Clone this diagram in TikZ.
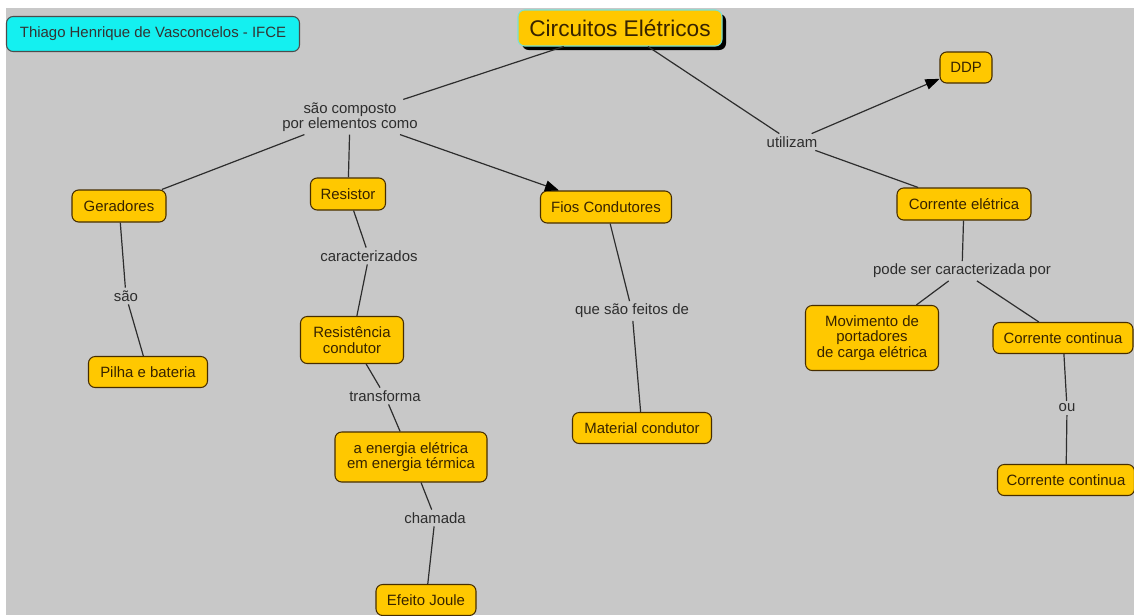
\documentclass[tikz,border=0pt]{standalone}
\usepackage{fontspec}
\setmainfont{Liberation Sans}
\usetikzlibrary{arrows.meta,shadows}
\definecolor{conceito}{RGB}{255,200,0}
\definecolor{borda}{RGB}{70,45,0}
\definecolor{fundo}{RGB}{200,200,200}
\definecolor{texto}{RGB}{55,35,0}
\definecolor{ligacao}{RGB}{45,45,45}
\definecolor{autor}{RGB}{20,240,240}

\begin{document}
\begin{tikzpicture}[x=0.75pt,y=-0.75pt,
  tam/.style 2 args={minimum width=#1*0.75pt, minimum height=#2*0.75pt},
  conc/.style={draw=borda, fill=conceito, text=texto, rounded corners=5pt,
    line width=0.8pt, align=center, inner sep=0pt,
    font=\fontsize{11.2}{11.6}\selectfont},
  frase/.style={text=ligacao, align=center, inner sep=2pt,
    font=\fontsize{11.2}{11.6}\selectfont},
  liga/.style={draw=ligacao, line width=0.9pt},
  seta/.style={liga, -{Triangle[length=10.5pt,width=8pt,color=black]}}]
  \useasboundingbox (0,0) rectangle (1134,615);
  \fill [white] (0,0) rectangle (1134,615);
  \fill [fundo] (6,8) rectangle (1134,615);

  \node [conc, tam={293}{35}, fill=autor, draw=black!70, text=black!80] at (153,34) (autor) {Thiago Henrique de Vasconcelos - IFCE};
  \node [conc, tam={204}{36}, draw={rgb,255:red,120;green,225;blue,210},
    drop shadow={fill=black, opacity=1, shadow xshift=3pt, shadow yshift=-3pt},
    font=\fontsize{17}{20}\selectfont] at (620,28) (circuitos) {Circuitos Elétricos};

  \node [conc, tam={52}{31}] at (966,67.5) (ddp) {DDP};
  \node [conc, tam={134}{32}] at (964,204) (corrente) {Corrente elétrica};
  \node [conc, tam={94}{32}] at (119,206) (geradores) {Geradores};
  \node [conc, tam={119}{31}] at (148,372) (pilha) {Pilha e bateria};
  \node [conc, tam={75}{32}] at (348,194) (resistor) {Resistor};
  \node [conc, tam={131}{32}] at (606,207) (fios) {Fios Condutores};
  \node [conc, tam={139}{31}] at (642,428) (material) {Material condutor};
  \node [conc, tam={103}{47}] at (352,340) (resistencia) {Resistência\\condutor};
  \node [conc, tam={152}{50}] at (411,457) (energia) {a energia elétrica\\em energia térmica};
  \node [conc, tam={100}{31}] at (426,600) (joule) {Efeito Joule};
  \node [conc, tam={133}{65}] at (872,338) (movimento) {Movimento de\\portadores\\de carga elétrica};
  \node [conc, tam={140}{31}] at (1063,338) (continua) {Corrente continua};
  \node [conc, tam={137}{31}] at (1066,480) (continuab) {Corrente continua};

  \node [frase] at (350,117) (composto) {são composto\\por elementos como};
  \node [frase] at (792,142) (utilizam) {utilizam};
  \node [frase] at (126,296) (sao) {são};
  \node [frase] at (369,256) (caract) {caracterizados};
  \node [frase] at (385,396) (transforma) {transforma};
  \node [frase] at (435,518) (chamada) {chamada};
  \node [frase] at (632,311) (feitos) {que são feitos de};
  \node [frase] at (962,271) (pode) {pode ser caracterizada por};
  \node [frase] at (1067,408) (ou) {ou};

  \draw [liga] (circuitos) -- (composto);
  \draw [liga] (composto) -- (geradores);
  \draw [liga] (composto) -- (resistor);
  \draw [seta] (composto) -- (fios);
  \draw [liga] (circuitos) -- (utilizam);
  \draw [seta] (utilizam) -- (ddp);
  \draw [liga] (utilizam) -- (corrente);
  \draw [liga] (geradores) -- (sao);
  \draw [liga] (sao) -- (pilha);
  \draw [liga] (resistor) -- (caract);
  \draw [liga] (caract) -- (resistencia);
  \draw [liga] (resistencia) -- (transforma);
  \draw [liga] (transforma) -- (energia);
  \draw [liga] (energia) -- (chamada);
  \draw [liga] (chamada) -- (joule);
  \draw [liga] (fios) -- (feitos);
  \draw [liga] (feitos) -- (material);
  \draw [liga] (corrente) -- (pode);
  \draw [liga] (pode) -- (movimento);
  \draw [liga] (pode) -- (continua);
  \draw [liga] (continua) -- (ou);
  \draw [liga] (ou) -- (continuab);
\end{tikzpicture}
\end{document}
